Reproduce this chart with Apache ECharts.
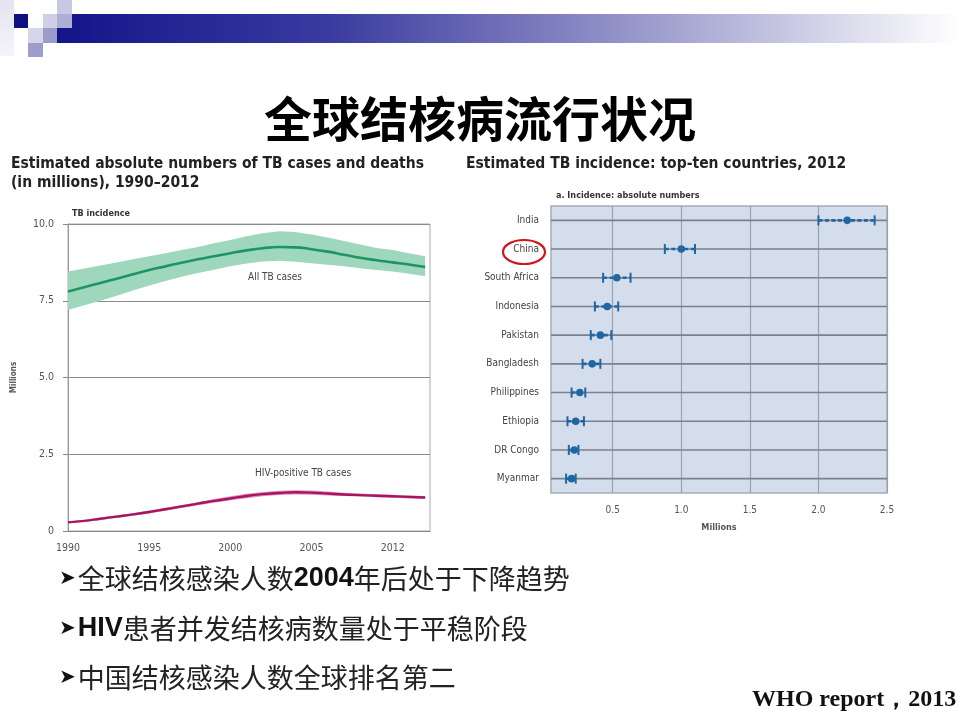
<!DOCTYPE html>
<html>
<head>
<meta charset="utf-8">
<title>全球结核病流行状况</title>
<script src="https://cdn.jsdelivr.net/npm/echarts@6/dist/echarts.min.js"></script>
<style>
  html, body { margin: 0; padding: 0; background: #fff; }
  #main { width: 960px; height: 720px; }
</style>
</head>
<body>
<div id="main"></div>
<script>
// left chart: TB incidence 1990-2012 (millions)
const years = [1990, 1991, 1992, 1993, 1994, 1995, 1996, 1997, 1998, 1999, 2000, 2001,
  2002, 2003, 2004, 2005, 2006, 2007, 2008, 2009, 2010, 2011, 2012];
const allTb = [7.80, 7.94, 8.08, 8.22, 8.36, 8.50, 8.62, 8.74, 8.85, 8.95, 9.05, 9.14,
  9.21, 9.25, 9.24, 9.18, 9.10, 9.00, 8.90, 8.82, 8.75, 8.68, 8.60];
const allTbLow = [7.20, 7.35, 7.50, 7.66, 7.83, 8.00, 8.14, 8.28, 8.40, 8.51, 8.62, 8.71,
  8.78, 8.80, 8.77, 8.72, 8.67, 8.62, 8.56, 8.50, 8.45, 8.38, 8.30];
const allTbHigh = [8.45, 8.55, 8.65, 8.75, 8.85, 8.95, 9.05, 9.15, 9.25, 9.37, 9.48, 9.60,
  9.70, 9.76, 9.74, 9.66, 9.56, 9.45, 9.33, 9.22, 9.15, 9.05, 8.95];
const hiv = [0.28, 0.33, 0.40, 0.47, 0.54, 0.62, 0.71, 0.80, 0.89, 0.98, 1.06, 1.14,
  1.20, 1.24, 1.26, 1.25, 1.22, 1.19, 1.17, 1.15, 1.13, 1.11, 1.09];
const hivLow = [0.25, 0.30, 0.36, 0.43, 0.50, 0.57, 0.66, 0.75, 0.84, 0.92, 1.00, 1.07,
  1.13, 1.17, 1.19, 1.18, 1.16, 1.14, 1.12, 1.10, 1.08, 1.06, 1.04];
const hivHigh = [0.31, 0.36, 0.44, 0.51, 0.58, 0.67, 0.76, 0.85, 0.94, 1.04, 1.13, 1.21,
  1.27, 1.31, 1.33, 1.32, 1.29, 1.25, 1.22, 1.20, 1.18, 1.16, 1.14];
const yearTicks = [1990, 1995, 2000, 2005, 2010];
const yearTickLabels = ['1990', '1995', '2000', '2005', '2012'];

// right chart: top-ten countries 2012 (millions)
const countries = ['India', 'China', 'South Africa', 'Indonesia', 'Pakistan',
  'Bangladesh', 'Philippines', 'Ethiopia', 'DR Congo', 'Myanmar'];
const incBest = [2.21, 1.00, 0.53, 0.46, 0.41, 0.35, 0.26, 0.23, 0.22, 0.20];
const incLow = [2.00, 0.88, 0.43, 0.37, 0.34, 0.28, 0.20, 0.17, 0.18, 0.16];
const incHigh = [2.41, 1.10, 0.63, 0.54, 0.49, 0.41, 0.30, 0.29, 0.25, 0.23];
const millionTicks = [0.5, 1.0, 1.5, 2.0, 2.5];

const chartFont = '"DejaVu Sans Condensed", "Liberation Sans Narrow", "DejaVu Sans", sans-serif';
const cjkFont = '"Noto Sans CJK SC", sans-serif';
const barBlue = '#1f67a3';

const pairs = arr => years.map((y, i) => [y, arr[i]]);

// uncertainty band drawn as a polygon through the axis scales
function bandSeries(name, low, high, color) {
  return {
    name: name, type: 'custom', xAxisIndex: 0, yAxisIndex: 0, silent: true, z: 1,
    data: [[years[0], low[0]]],
    renderItem: function (params, api) {
      const upper = years.map((y, i) => api.coord([y, high[i]]));
      const lower = years.map((y, i) => api.coord([y, low[i]])).reverse();
      return {
        type: 'polygon',
        shape: { points: upper.concat(lower) },
        style: { fill: color }
      };
    }
  };
}

let chart = echarts.init(document.getElementById('main'));

const bulletRich = {
  a: { fontSize: 20, fontFamily: '"DejaVu Sans", sans-serif', fill: '#111', verticalAlign: 'middle', padding: [0, 2, 0, 0] },
  n: { fontSize: 27, fontFamily: cjkFont, fill: '#222', verticalAlign: 'middle' },
  b: { fontSize: 27, fontFamily: '"Liberation Sans", Arial, sans-serif', fontWeight: 'bold', fill: '#111', verticalAlign: 'middle' }
};

let option = {
  animation: false,
  backgroundColor: '#fff',
  title: [
    { text: '全球结核病流行状况', left: 'center', top: 90,
      textStyle: { fontFamily: cjkFont, fontSize: 48, fontWeight: 'bold', color: '#000' } },
    { text: 'Estimated absolute numbers of TB cases and deaths\n(in millions), 1990–2012', left: 6, top: 149,
      textStyle: { fontFamily: chartFont, fontSize: 15.5, fontWeight: 'bold', color: '#222', lineHeight: 19 } },
    { text: 'Estimated TB incidence: top-ten countries, 2012', left: 461, top: 149,
      textStyle: { fontFamily: chartFont, fontSize: 15.5, fontWeight: 'bold', color: '#222', lineHeight: 19 } },
    { text: 'TB incidence', left: 67, top: 204,
      textStyle: { fontFamily: chartFont, fontSize: 9, fontWeight: 'bold', color: '#333' } },
    { text: 'a. Incidence: absolute numbers', left: 551, top: 186,
      textStyle: { fontFamily: chartFont, fontSize: 9, fontWeight: 'bold', color: '#333' } }
  ],
  grid: [
    { left: 68, top: 224, width: 362, height: 307, show: true, borderColor: '#aaa', borderWidth: 1 },
    { left: 551, top: 206, width: 336, height: 287, show: true,
      backgroundColor: '#d4ddec', borderColor: '#a7adb8', borderWidth: 1.5 }
  ],
  xAxis: [
    {
      gridIndex: 0, type: 'value', min: 1990, max: 2012.3,
      axisLine: { show: true, lineStyle: { color: '#888' } },
      axisTick: { show: false, customValues: yearTicks },
      splitLine: { show: false },
      axisLabel: {
        customValues: yearTicks, color: '#555', fontSize: 10.5, fontFamily: chartFont, margin: 12,
        formatter: v => yearTickLabels[yearTicks.indexOf(v)]
      }
    },
    {
      gridIndex: 1, type: 'value', min: 0.05, max: 2.5,
      name: 'Millions', nameLocation: 'middle', nameGap: 30,
      nameTextStyle: { color: '#555', fontSize: 9, fontWeight: 'bold', fontFamily: chartFont },
      axisLine: { show: false },
      axisTick: { show: false, customValues: millionTicks },
      splitLine: { show: true, customValues: millionTicks, lineStyle: { color: '#9aa2ae', width: 1.2 } },
      axisLabel: {
        customValues: millionTicks, color: '#555', fontSize: 10, fontFamily: chartFont, margin: 12,
        formatter: v => v.toFixed(1)
      }
    }
  ],
  yAxis: [
    {
      gridIndex: 0, type: 'value', min: 0, max: 10, interval: 2.5,
      name: 'Millions', nameLocation: 'middle', nameGap: 50, nameRotate: 90,
      nameTextStyle: { color: '#555', fontSize: 8, fontWeight: 'bold', fontFamily: chartFont },
      axisLine: { show: true, lineStyle: { color: '#999' } },
      axisTick: { show: true, length: 5, lineStyle: { color: '#888' } },
      splitLine: { show: true, lineStyle: { color: '#8c8c8c', width: 1.2 } },
      axisLabel: {
        color: '#555', fontSize: 10.5, fontFamily: chartFont, margin: 14,
        formatter: v => (v === 0 ? '0' : v.toFixed(1))
      }
    },
    {
      gridIndex: 1, type: 'category', data: countries, inverse: true,
      axisLine: { show: false },
      axisTick: { show: false },
      splitLine: { show: false },
      axisLabel: { color: '#444', fontSize: 10, fontFamily: chartFont, margin: 12 }
    }
  ],
  series: [
    bandSeries('tbBand', allTbLow, allTbHigh, '#9fd7bd'),
    { name: 'All TB cases', type: 'line', xAxisIndex: 0, yAxisIndex: 0, smooth: true,
      symbol: 'none', lineStyle: { color: '#1d9466', width: 2.6 }, data: pairs(allTb), z: 3 },
    bandSeries('hivBand', hivLow, hivHigh, '#e68fbe'),
    { name: 'HIV-positive TB cases', type: 'line', xAxisIndex: 0, yAxisIndex: 0, smooth: true,
      symbol: 'none', lineStyle: { color: '#a51661', width: 2.4 }, data: pairs(hiv), z: 3 },
    {
      name: 'Incidence', type: 'custom', xAxisIndex: 1, yAxisIndex: 1,
      data: countries.map((c, i) => [i, incLow[i], incBest[i], incHigh[i]]),
      encode: { x: [1, 2, 3], y: 0 },
      renderItem: function (params, api) {
        const row = api.value(0);
        const lo = api.coord([api.value(1), row]);
        const mid = api.coord([api.value(2), row]);
        const hi = api.coord([api.value(3), row]);
        const cs = params.coordSys;
        const cap = 5;
        return {
          type: 'group',
          children: [
            { type: 'line', shape: { x1: cs.x, y1: mid[1], x2: cs.x + cs.width, y2: mid[1] },
              style: { stroke: '#7b818c', lineWidth: 1.6 } },
            { type: 'line', shape: { x1: lo[0], y1: lo[1], x2: hi[0], y2: hi[1] },
              style: { stroke: barBlue, lineWidth: 2.6, lineDash: [4, 2.5] } },
            { type: 'line', shape: { x1: lo[0], y1: lo[1] - cap, x2: lo[0], y2: lo[1] + cap },
              style: { stroke: barBlue, lineWidth: 2 } },
            { type: 'line', shape: { x1: hi[0], y1: hi[1] - cap, x2: hi[0], y2: hi[1] + cap },
              style: { stroke: barBlue, lineWidth: 2 } },
            { type: 'circle', shape: { cx: mid[0], cy: mid[1], r: 3.8 },
              style: { fill: barBlue } }
          ]
        };
      }
    }
  ],
  graphic: [
    // header decoration
    { type: 'rect', shape: { x: 57, y: 14, width: 903, height: 29 },
      style: { fill: new echarts.graphic.LinearGradient(0, 0, 1, 0, [
        { offset: 0, color: '#14148a' }, { offset: 0.3, color: '#3a3aa0' },
        { offset: 0.65, color: '#9a9acc' }, { offset: 1, color: '#ffffff' }]) } },
    { type: 'rect', shape: { x: 0, y: 0, width: 14, height: 56 },
      style: { fill: new echarts.graphic.LinearGradient(0, 0, 0, 1, [
        { offset: 0, color: '#e4e4f2' }, { offset: 1, color: '#f4f4fa' }]) } },
    { type: 'rect', shape: { x: 14, y: 14, width: 14, height: 14 }, style: { fill: '#10107e' } },
    { type: 'rect', shape: { x: 43, y: 14, width: 14, height: 14 }, style: { fill: '#cfcfe6' } },
    { type: 'rect', shape: { x: 57, y: 0, width: 15, height: 14 }, style: { fill: '#c8c8e2' } },
    { type: 'rect', shape: { x: 57, y: 14, width: 15, height: 14 }, style: { fill: '#aeaed6' } },
    { type: 'rect', shape: { x: 28, y: 28, width: 15, height: 15 }, style: { fill: '#d6d6ea' } },
    { type: 'rect', shape: { x: 43, y: 28, width: 14, height: 15 }, style: { fill: '#9c9ccc' } },
    { type: 'rect', shape: { x: 28, y: 43, width: 15, height: 14 }, style: { fill: '#9d9dca' } },
    // series annotations on the left chart
    { type: 'text', left: 248, top: 272,
      style: { text: 'All TB cases', fontFamily: chartFont, fontSize: 10, fill: '#444' } },
    { type: 'text', left: 255, top: 468,
      style: { text: 'HIV-positive TB cases', fontFamily: chartFont, fontSize: 10, fill: '#444' } },
    // red ring around China
    { type: 'ellipse', shape: { cx: 524, cy: 252, rx: 21, ry: 12 },
      style: { fill: 'none', stroke: '#d0161b', lineWidth: 2.2 } },
    // bullet points
    { type: 'text', left: 59, top: 565,
      style: { text: '{a|➤}{n|全球结核感染人数}{b|2004}{n|年后处于下降趋势}', rich: bulletRich } },
    { type: 'text', left: 59, top: 615,
      style: { text: '{a|➤}{b|HIV}{n|患者并发结核病数量处于平稳阶段}', rich: bulletRich } },
    { type: 'text', left: 59, top: 664,
      style: { text: '{a|➤}{n|中国结核感染人数全球排名第二}', rich: bulletRich } },
    { type: 'text', left: 752, top: 688,
      style: { text: 'WHO report，2013', fontFamily: '"Liberation Serif", "Times New Roman", serif',
        fontSize: 24, fontWeight: 'bold', fill: '#111' } }
  ]
};

chart.setOption(option);
</script>
</body>
</html>
